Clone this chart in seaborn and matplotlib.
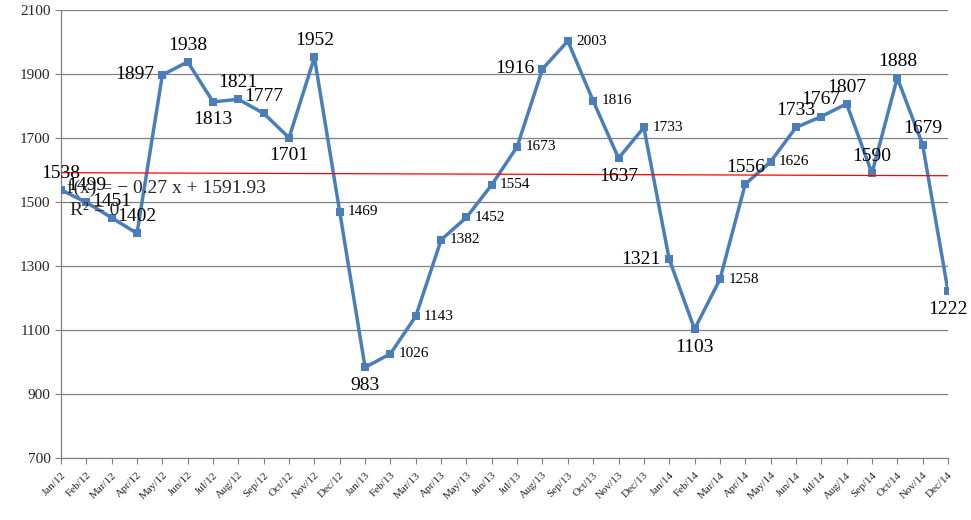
import matplotlib.pyplot as plt
import pandas as pd
import seaborn as sns

months = ['Jan/12', 'Feb/12', 'Mar/12', 'Apr/12', 'May/12', 'Jun/12',
          'Jul/12', 'Aug/12', 'Sep/12', 'Oct/12', 'Nov/12', 'Dec/12',
          'Jan/13', 'Feb/13', 'Mar/13', 'Apr/13', 'May/13', 'Jun/13',
          'Jul/13', 'Aug/13', 'Sep/13', 'Oct/13', 'Nov/13', 'Dec/13',
          'Jan/14', 'Feb/14', 'Mar/14', 'Apr/14', 'May/14', 'Jun/14',
          'Jul/14', 'Aug/14', 'Sep/14', 'Oct/14', 'Nov/14', 'Dec/14']
values = [1538, 1499, 1451, 1402, 1897, 1938, 1813, 1821, 1777, 1701, 1952, 1469,
          983, 1026, 1143, 1382, 1452, 1554, 1673, 1916, 2003, 1816, 1637, 1733,
          1321, 1103, 1258, 1556, 1626, 1733, 1767, 1807, 1590, 1888, 1679, 1222]

# where each data label sits relative to its point
label_side = ['above', 'above', 'above', 'above', 'left', 'above', 'below', 'above',
              'above', 'below', 'above', 'right', 'below', 'right', 'right', 'right',
              'right', 'right', 'right', 'left', 'right', 'right', 'below', 'right',
              'left', 'below', 'right', 'above', 'right', 'above', 'above', 'above',
              'above', 'above', 'above', 'below']

trend_slope = -0.27
trend_intercept = 1591.93

df = pd.DataFrame({'Month': months, 'Value': values})
df['x'] = range(len(df))
df['Trend'] = trend_slope * (df['x'] + 1) + trend_intercept

sns.set_style('white')
plt.rcParams['font.family'] = ['Liberation Serif', 'DejaVu Serif']

fig = plt.figure(figsize=(9.71, 5.20), dpi=100)
ax = fig.add_axes([0.0628, 0.1192, 0.9135, 0.8615])

sns.lineplot(data=df, x='x', y='Value', ax=ax, color='#4A7EBB', lw=2.5,
             marker='s', markersize=6, markeredgewidth=0, zorder=3)
sns.lineplot(data=df, x='x', y='Trend', ax=ax, color='#FF0000', lw=0.9, zorder=4)

styles = {
    'above': ((0, 12), 'center', 14),
    'below': ((0, -13), 'center', 14),
    'left': ((-6, 0), 'right', 14),
    'right': ((6, 0), 'left', 11),
}
for i, (v, side) in enumerate(zip(values, label_side)):
    off, ha, fs = styles[side]
    ax.annotate(str(v), (i, v), xytext=off, textcoords='offset points',
                ha=ha, va='center', fontsize=fs, color='black', zorder=5)

ax.text(0.25, 1544, 'f(x) = \u2212 0.27 x + 1591.93', fontsize=14, va='center', ha='left', zorder=5)
ax.text(0.35, 1474, 'R\u00b2 = 0', fontsize=14, va='center', ha='left', zorder=5)

ax.set_xlim(0, len(months) - 1)
ax.set_ylim(700, 2100)
ax.set_yticks(range(700, 2101, 200))
ax.set_xticks(df['x'])
ax.set_xticklabels(months, rotation=45, ha='right', va='top', rotation_mode='anchor', fontsize=8)
ax.tick_params(axis='y', labelsize=11, length=4.5, color='#808080', direction='out', left=True, pad=3)
ax.tick_params(axis='x', length=4, color='#808080', direction='out', bottom=True, pad=5)
ax.set_xlabel('')
ax.set_ylabel('')
ax.yaxis.grid(True, color='#808080', lw=0.9)
ax.xaxis.grid(False)
for s in ['top', 'right']:
    ax.spines[s].set_visible(False)
for s in ['left', 'bottom']:
    ax.spines[s].set_color('#808080')
    ax.spines[s].set_linewidth(0.9)

fig.savefig('out.png', dpi=100)
